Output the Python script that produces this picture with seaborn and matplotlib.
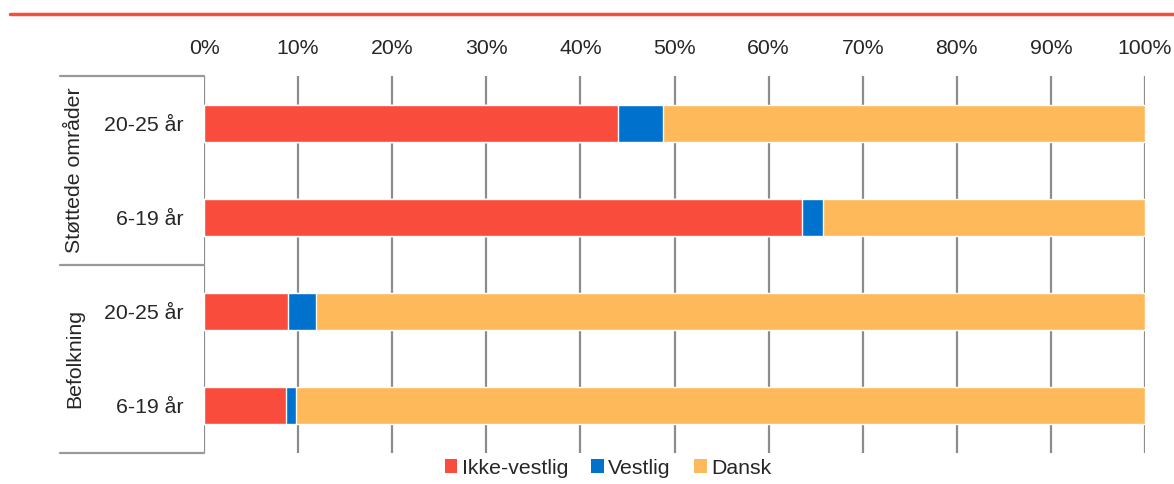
import numpy as np
import pandas as pd
import seaborn as sns
import matplotlib.pyplot as plt
from matplotlib.patches import Patch
from matplotlib.lines import Line2D

# data (percent shares per row)
groups = ["Støttede områder", "Støttede områder", "Befolkning", "Befolkning"]
ages = ["20-25 år", "6-19 år", "20-25 år", "6-19 år"]
ikke_vestlig = [44.0, 63.5, 8.9, 8.7]
vestlig = [4.8, 2.3, 3.0, 1.1]
dansk = [51.2, 34.2, 88.1, 90.2]
series = ["Ikke-vestlig", "Vestlig", "Dansk"]
colors = ["#F94C3C", "#0072CE", "#FDB95A"]

sns.set_style("white")
plt.rcParams["font.family"] = ["Liberation Sans", "DejaVu Sans"]
fs = 15.3

df = pd.DataFrame({
    "row": [g + " " + a for g, a in zip(groups, ages)],
    "Ikke-vestlig": ikke_vestlig,
    "Vestlig": vestlig,
    "Dansk": dansk,
})
df["c1"] = df["Ikke-vestlig"]
df["c2"] = df["c1"] + df["Vestlig"]
df["c3"] = df["c2"] + df["Dansk"]

fig = plt.figure(figsize=(11.74, 4.84), dpi=100)
ax = fig.add_axes([204 / 1174, 1 - 453 / 484, 941 / 1174, 377 / 484])

# layered bars: total first, then partial sums on top
for col, c in zip(["c3", "c2", "c1"], colors[::-1]):
    sns.barplot(data=df, x=col, y="row", orient="h", color=c, width=0.39,
                saturation=1, ax=ax, zorder=3)

ax.set_xlim(0, 100)
ax.set_ylim(3.5, -0.5)
ax.set_xticks(np.arange(0, 101, 10))
ax.set_xticklabels([f"{v}%" for v in range(0, 101, 10)], fontsize=fs)
ax.xaxis.tick_top()
ax.tick_params(axis="x", length=0, pad=13)
ax.set_yticks(range(4))
ax.set_yticklabels(ages, fontsize=fs)
ax.tick_params(axis="y", length=0, pad=15)
ax.set_xlabel("")
ax.set_ylabel("")
for s in ax.spines.values():
    s.set_visible(False)
ax.grid(axis="x", color="#8c8c8c", linewidth=1.6)
ax.set_axisbelow(True)

# group separators on the left
tr = ax.get_yaxis_transform()
for yv in [-0.5, 1.5, 3.5]:
    ax.add_line(Line2D([-144 / 941, 0], [yv, yv], transform=tr, color="#999999",
                       linewidth=1.6, clip_on=False))
for yc, name in [(0.5, "Støttede områder"), (2.5, "Befolkning")]:
    ax.text(-129 / 941, yc, name, transform=tr, rotation=90, ha="center",
            va="center", fontsize=fs)

# top red rule
fig.add_artist(Line2D([10 / 1174, 1], [1 - 14 / 484] * 2, color="#F94C3C",
                      linewidth=2.5))

handles = [Patch(facecolor=c, edgecolor="none") for c in colors]
fig.legend(handles, series, loc="center", bbox_to_anchor=(608 / 1174, 1 - 468 / 484),
           ncol=3, frameon=False, fontsize=fs, handlelength=0.6,
           handleheight=0.6, handletextpad=0.2, columnspacing=1.1,
           borderaxespad=0, borderpad=0)

fig.savefig("out.png", dpi=100)
